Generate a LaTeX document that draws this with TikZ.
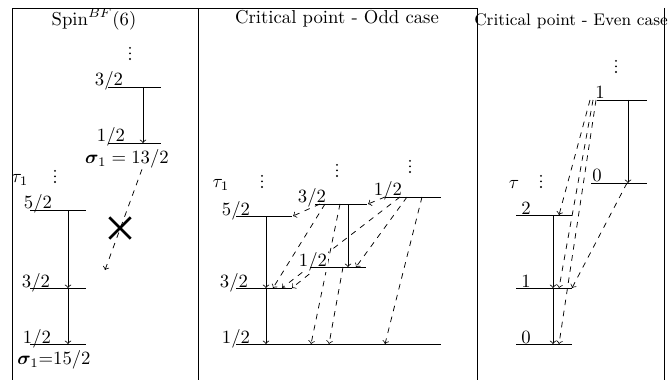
\documentclass[tikz,border=0pt]{standalone}
\usepackage{bm}
\usetikzlibrary{calc,shapes.misc}

\tikzset{
  lab/.style={anchor=base, inner sep=0.5pt},
  decay/.style={->},
  mixed/.style={->, dashed},
}

\begin{document}
\begin{tikzpicture}[x=0.535pt, y=-0.535pt]
  \useasboundingbox (0,0) rectangle (670,380);
  % frames
  \draw (12,380) |- (477,8) -- (477,380);
  \draw (198,8) -- (198,380);
  \draw (664,8) -- (664,380);
  % titles
  \node (tSpin) at (94,19) {$\mathrm{Spin}^{BF}(6)$};
  \node (tOdd) at (337,19) {Critical point - Odd case};
  \node[font=\small] (tEven) at (571,21) {Critical point - Even case};

  % level positions (left ends)
  \coordinate (sA32) at (108,87);
  \coordinate (sA12) at (108,143);
  \coordinate (sB52) at (30,210);
  \coordinate (sB32) at (30,288);
  \coordinate (sB12) at (30,344);
  \coordinate (m52) at (236,216);
  \coordinate (m32) at (236,288);
  \coordinate (m12) at (236,344);
  \coordinate (u32) at (315,204);
  \coordinate (u12) at (310,267);
  \coordinate (t12) at (385,197);
  \coordinate (e1t) at (597,100);
  \coordinate (e0t) at (591,183);
  \coordinate (e2) at (516,215);
  \coordinate (e1) at (516,288);
  \coordinate (e0) at (516,344);
  \coordinate (lost) at (105,270);

  % dashed transitions
  \draw[mixed] ($(u32)+(5,0)$) -- ($(m52)+(57,0)$);
  \draw[mixed] (t12) -- ($(u32)+(53,0)$);
  \draw[mixed] ($(u32)+(10,0)$) -- ($(m32)+(37,0)$);
  \draw[mixed] ($(u32)+(25,0)$) -- ($(m12)+(75,0)$);
  \draw[mixed] ($(t12)+(15,0)$) -- ($(m32)+(46,0)$);
  \draw[mixed] ($(u12)+(8,0)$) -- ($(m32)+(56,0)$);
  \draw[mixed] ($(u12)+(33,0)$) -- ($(m12)+(93,0)$);
  \draw[mixed] ($(t12)+(22,0)$) -- ($(u12)+(46,0)$);
  \draw[mixed] ($(t12)+(37,0)$) -- ($(m12)+(149,0)$);
  \draw[mixed] ($(e1t)+(-7,0)$) -- ($(e2)+(43,0)$);
  \draw[mixed] ($(e1t)+(-4,0)$) -- ($(e1)+(43,0)$);
  \draw[mixed] ($(e1t)+(-1,0)$) -- ($(e0)+(43,0)$);
  \draw[mixed] ($(e0t)+(36,0)$) -- ($(e1)+(56,0)$);

  % level labels
  \node[lab] (lA32) at (109,86) {$3/2$};
  \node[lab] (lA12) at (111,142) {$1/2$};
  \node[lab] (lB52) at (38,209) {$5/2$};
  \node[lab] (lB32) at (36,287) {$3/2$};
  \node[lab] (lB12) at (37,343) {$1/2$};
  \node[lab] (lM52) at (236,215) {$5/2$};
  \node[lab] (lU32) at (312,203) {$3/2$};
  \node[lab] (lT12) at (388,196) {$1/2$};
  \node[lab, fill=white] (lU12) at (313,266) {$1/2$};
  \node[lab] (lM32) at (234,287) {$3/2$};
  \node[lab] (lM12) at (236,343) {$1/2$};
  \node[lab] (lE1t) at (600,99) {$1$};
  \node[lab] (lE0t) at (597,182) {$0$};
  \node[lab] (lE2) at (526,214) {$2$};
  \node[lab] (lE1) at (526,287) {$1$};
  \node[lab] (lE0) at (526,343) {$0$};

  % levels
  \draw (sA32) -- ++(53,0);
  \draw (sA12) -- ++(53,0);
  \draw (sB52) -- ++(56,0);
  \draw (sB32) -- ++(56,0);
  \draw (sB12) -- ++(56,0);
  \draw (m52) -- ++(56,0);
  \draw (m32) -- ++(56,0);
  \draw (m12) -- ++(205,0);
  \draw (u32) -- ++(52,0);
  \draw (u12) -- ++(56,0);
  \draw (t12) -- ++(56,0);
  \draw (e1t) -- ++(50,0);
  \draw (e0t) -- ++(56,0);
  \draw (e2) -- ++(56,0);
  \draw (e1) -- ++(56,0);
  \draw (e0) -- ++(56,0);

  % solid transitions
  \draw[decay] ($(sA32)+(35,0)$) -- ($(sA12)+(35,0)$);
  \draw[decay] ($(sB52)+(38,0)$) -- ($(sB32)+(38,0)$);
  \draw[decay] ($(sB32)+(38,0)$) -- ($(sB12)+(38,0)$);
  \draw[decay] ($(m52)+(30,0)$) -- ($(m32)+(30,0)$);
  \draw[decay] ($(m32)+(30,0)$) -- ($(m12)+(30,0)$);
  \draw[decay] ($(u32)+(33,0)$) -- ($(u12)+(38,0)$);
  \draw[decay] ($(e1t)+(31,0)$) -- ($(e0t)+(37,0)$);
  \draw[decay] ($(e2)+(37,0)$) -- ($(e1)+(37,0)$);
  \draw[decay] ($(e1)+(37,0)$) -- ($(e0)+(37,0)$);

  % quantum numbers
  \node (sigA) at (127,159) {$\bm{\sigma}_1 = 13/2$};
  \node (sigB) at (54,360) {$\bm{\sigma}_1{=}15/2$};
  \node (tauL) at (20,180) {$\tau_1$};
  \node (tauM) at (221,185) {$\tau_1$};
  \node (tauR) at (514,184) {$\tau$};

  % continuation dots (lowest dot)
  \coordinate (dA) at (130,59);
  \coordinate (dB) at (55,182);
  \coordinate (dM1) at (262,187);
  \coordinate (dM2) at (337,176);
  \coordinate (dM3) at (410,172);
  \coordinate (dE1) at (616,72);
  \coordinate (dE2) at (541,187);
  \foreach \p in {dA,dB,dM1,dM2,dM3,dE1,dE2}
    \foreach \k in {0,1,2}
      \fill ($(\p)+(0,-5.6*\k)$) circle (0.55pt);

  % forbidden branch
  \draw[mixed] ([xshift=8pt,yshift=3pt]sigA.south) -- (lost);
  \node[cross out, draw, line width=1.5pt, minimum size=10pt, inner sep=0pt] (veto) at (120,228) {};
\end{tikzpicture}
\end{document}
